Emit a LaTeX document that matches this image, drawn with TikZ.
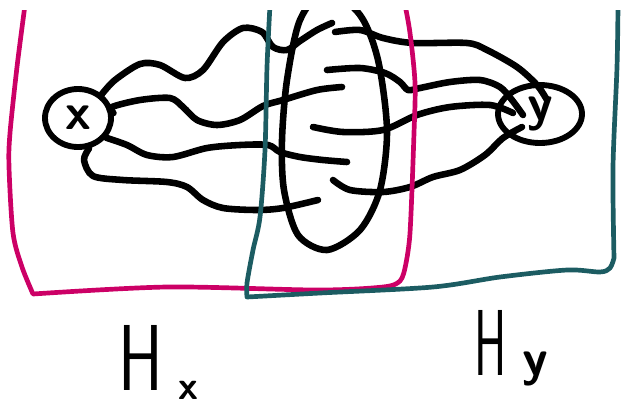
\documentclass[tikz,border=0pt]{standalone}
\usetikzlibrary{shapes.geometric}

\definecolor{hxpink}{RGB}{204,0,102}
\definecolor{hyteal}{RGB}{28,92,98}

\tikzset{
  wire/.style={line width=5.6pt, line cap=round, line join=round},
  hxframe/.style={line width=4pt, hxpink, line cap=round, line join=round},
  hyframe/.style={line width=4pt, hyteal, line cap=round, line join=round},
  vertex/.style={draw, ellipse, line width=5pt, inner sep=0pt,
    font=\sffamily\bfseries\fontsize{44}{44}\selectfont},
  setlabel/.style={inner sep=0pt, font=\sffamily\fontsize{80}{80}\selectfont}
}

\begin{document}
\begin{tikzpicture}[x=0.03cm, y=-0.03cm]
    \useasboundingbox (0,0) rectangle (622,408);

    % Draw the two end vertices
    \node[vertex, minimum width=1.98cm, minimum height=1.74cm] (vx) at (78,118) {x};
    \node[vertex, minimum width=2.52cm, minimum height=1.74cm] (vy) at (540,114) {y};

    \begin{scope}
    \clip (0,10) rectangle (622,408);

    % Draw the separator
    \draw[wire] plot[smooth cycle] coordinates {(326,-10) (360,15) (378,60) (387,130)
        (380,190) (360,230) (327,250) (298,235) (284,190) (282,140) (287,80) (300,20)};

    % Draw paths from x into the separator
    \draw[wire] plot[smooth] coordinates {(vx.45) (115,80) (140,64) (160,65) (185,78)
        (203,70) (223,42) (243,28) (262,32) (273,47) (287,50) (300,41) (317,30) (332,23)};
    \draw[wire] plot[smooth] coordinates {(vx.8) (112,107) (140,100) (170,98) (183,107)
        (197,120) (217,125) (240,120) (263,106) (283,100) (317,90) (342,87)};
    \draw[wire] plot[smooth] coordinates {(vx.-35) (127,145) (147,155) (173,157) (207,148)
        (240,145) (268,145) (280,152) (300,157) (323,160) (347,162)};
    \draw[wire] plot[smooth] coordinates {(vx.-70) (84,160) (93,176) (123,180) (167,182)
        (187,187) (203,200) (223,208) (257,210) (283,208) (318,200)};

    % Draw paths from the separator into y
    \draw[wire] plot[smooth] coordinates {(335,32) (360,30) (383,38) (413,43) (467,43)
        (487,50) (517,67) (537,85) (547,100)};
    \draw[wire] plot[smooth] coordinates {(327,70) (360,68) (385,73) (400,82) (408,90)
        (420,88) (450,82) (480,80) (500,87) (512,100) (523,115)};
    \draw[wire] plot[smooth] coordinates {(313,127) (343,132) (383,130) (417,115)
        (450,107) (490,105) (513,113)};
    \draw[wire] plot[smooth] coordinates {(333,180) (350,190) (383,192) (410,187)
        (433,177) (460,170) (485,155) (503,138) (522,127)};

    % Draw the two halves
    \draw[hxframe] plot[smooth] coordinates {(25,5) (17,67) (10,133) (9,167) (13,233)
        (22,267) (33,294)}
      -- plot[smooth] coordinates {(33,294) (167,287) (317,290) (383,287) (400,281) (405,268)}
      -- plot[smooth] coordinates {(405,268) (410,233) (414,133) (415,83) (410,33) (405,5)};
    \draw[hyframe] plot[smooth] coordinates {(270,5) (267,67) (265,150) (260,217)
        (253,250) (247,283) (247,297)}
      -- plot[smooth] coordinates {(247,297) (320,293) (433,287) (500,277) (567,270)
        (600,272) (610,268) (614,258)}
      -- plot[smooth] coordinates {(614,258) (613,167) (617,67) (618,5)};
    \end{scope}

    % Draw set labels
    \node[setlabel, anchor=base west] (hx) at (118,390)
        {\scalebox{0.72}[1]{H}\,\raisebox{-8pt}{\bfseries\fontsize{34}{34}\selectfont x}};
    \node[setlabel, anchor=base west] (hy) at (474,375)
        {\scalebox{0.52}[1]{H}\,{\bfseries\fontsize{44}{44}\selectfont y}};
\end{tikzpicture}
\end{document}
